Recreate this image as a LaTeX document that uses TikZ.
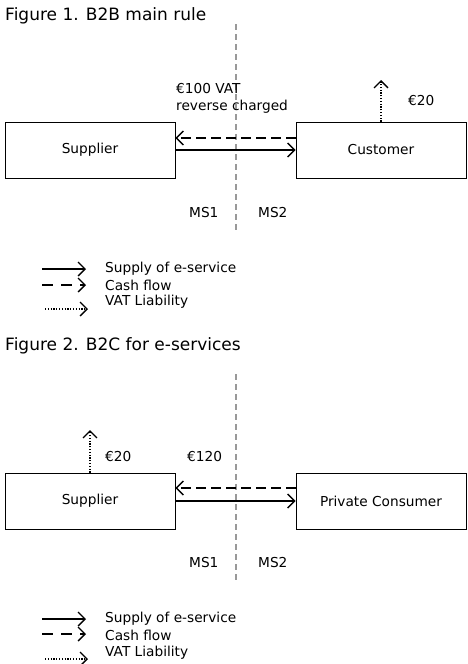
\documentclass[tikz,border=0pt]{standalone}
\usepackage{fontspec}
\setmainfont{DejaVu Sans}
\usetikzlibrary{arrows.meta}

\definecolor{borderline}{rgb}{0.6,0.6,0.6}

\begin{document}
\begin{tikzpicture}[x=1pt, y=-1pt,
        party/.style={draw=black, line width=0.8pt, minimum width=170pt, minimum height=56pt, inner sep=0pt, font=\fontsize{13.7}{16}\selectfont},
        lbl/.style={anchor=west, inner sep=0pt, font=\fontsize{13.7}{17}\selectfont},
        title/.style={anchor=base west, inner sep=0pt, font=\fontsize{17}{20}\selectfont},
        open/.style={-{Straight Barb[length=7pt, width=14pt, line width=1.4pt]}},
        supply/.style={open, line width=1.6pt},
        cash/.style={open, line width=1.5pt, dash pattern=on 10pt off 5pt},
        vat/.style={open, line width=1.1pt, dash pattern=on 1.2pt off 1.6pt},
        msline/.style={borderline, line width=1.1pt, dash pattern=on 6pt off 4pt}]
        \useasboundingbox (0,0) rectangle (468,664);

        % Figure 1
        \node[title] (t1) at (5,20) {Figure 1. B2B main rule};
        \draw[msline] (236,24) -- (236,231);

        \node[party] (sup1) at (90,150) {Supplier};
        \node[party] (cus1) at (381,150) {Customer};
        \draw[cash] ([yshift=12pt]cus1.west) -- ([yshift=12pt]sup1.east);
        \draw[supply] (sup1.east) -- (cus1.west);
        \coordinate (liab1) at (381,80);
        \draw[vat] (cus1.north) -- (liab1);

        \node[lbl, align=left] (amt1) at (176,98.5) {€100 VAT\\reverse charged};
        \node[lbl] (tax1) at (408,101) {€20};
        \node[lbl] (ms11) at (189,213) {MS1};
        \node[lbl] (ms21) at (258,213) {MS2};

        % legend 1
        \coordinate (a1) at (42,269);  \coordinate (b1) at (86,269);
        \coordinate (a2) at (42,285);  \coordinate (b2) at (86,285);
        \coordinate (a3) at (45,309);  \coordinate (b3) at (88,309);
        \draw[supply] (a1) -- (b1);
        \draw[cash, dash pattern=on 11pt off 8pt] (a2) -- (b2);
        \draw[vat] (a3) -- (b3);
        \node[lbl] (k1) at (105,269) {Supply of e-service};
        \node[lbl] (k2) at (105,285) {Cash flow};
        \node[lbl] (k3) at (105,302) {VAT Liability};

        % Figure 2
        \node[title] (t2) at (5,350) {Figure 2. B2C for e-services};
        \draw[msline] (236,374) -- (236,581);

        \node[party] (sup2) at (90,501) {Supplier};
        \node[party] (cus2) at (381,501) {Private Consumer};
        \draw[cash] ([yshift=13pt]cus2.west) -- ([yshift=13pt]sup2.east);
        \draw[supply] (sup2.east) -- (cus2.west);
        \coordinate (liab2) at (90,430);
        \draw[vat] (sup2.north) -- (liab2);

        \node[lbl] (tax2) at (105,457) {€20};
        \node[lbl] (amt2) at (187,457) {€120};
        \node[lbl] (ms12) at (189,563) {MS1};
        \node[lbl] (ms22) at (258,563) {MS2};

        % legend 2
        \coordinate (c1) at (42,619);  \coordinate (d1) at (86,619);
        \coordinate (c2) at (42,634);  \coordinate (d2) at (86,634);
        \coordinate (c3) at (45,659);  \coordinate (d3) at (88,659);
        \draw[supply] (c1) -- (d1);
        \draw[cash, dash pattern=on 11pt off 8pt] (c2) -- (d2);
        \draw[vat] (c3) -- (d3);
        \node[lbl] (m1) at (105,619) {Supply of e-service};
        \node[lbl] (m2) at (105,635) {Cash flow};
        \node[lbl] (m3) at (105,653) {VAT Liability};
\end{tikzpicture}
\end{document}
